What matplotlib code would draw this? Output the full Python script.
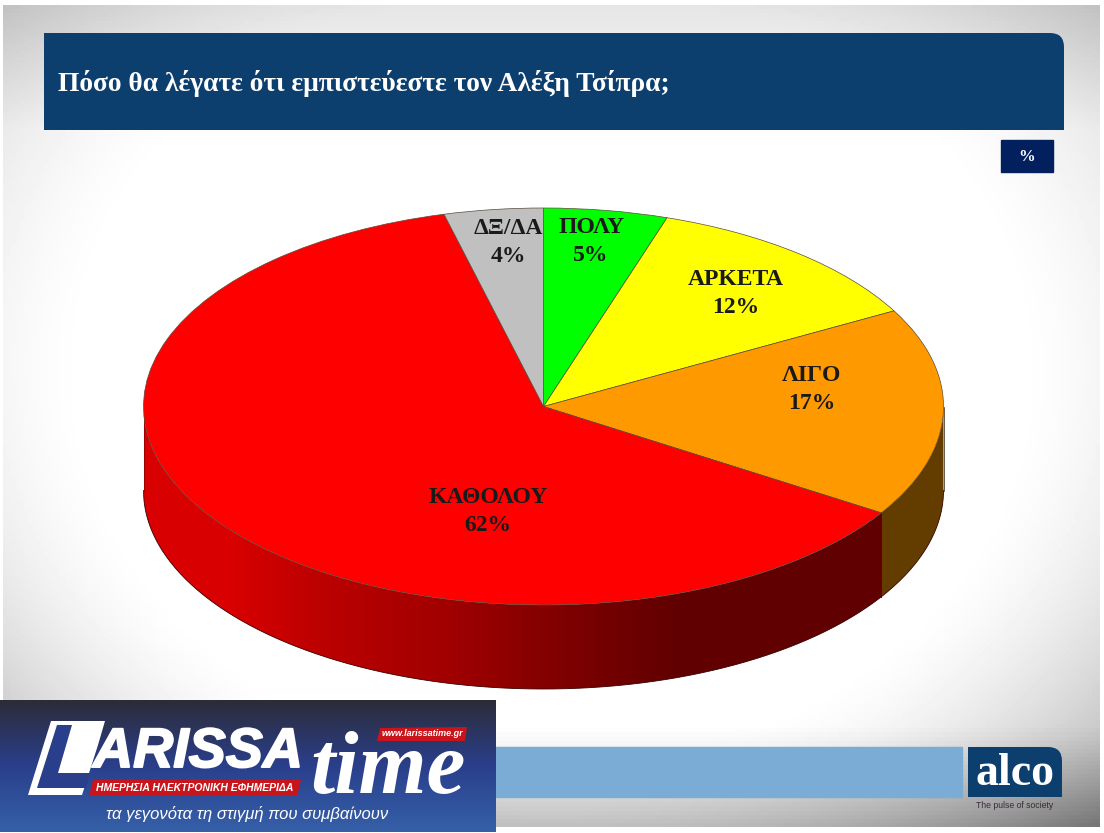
import numpy as np
import matplotlib
matplotlib.use("Agg")
import matplotlib.pyplot as plt
import matplotlib.patheffects as pe
from matplotlib.colors import LinearSegmentedColormap, to_rgb
from matplotlib.patches import Polygon, PathPatch
from matplotlib.path import Path

labels = ["ΠΟΛΥ", "ΑΡΚΕΤΑ", "ΛΙΓΟ", "ΚΑΘΟΛΟΥ", "ΔΞ/ΔΑ"]
values = [5, 12, 17, 62, 4]
colors = ["#00ff00", "#ffff00", "#ff9900", "#ff0000", "#c0c0c0"]
title = "Πόσο θα λέγατε ότι εμπιστεύεστε τον Αλέξη Τσίπρα;"

W, H = 1104, 833
NAVY = "#0c3f6e"
SERIF = "Liberation Serif"
SANS = "Liberation Sans"

fig = plt.figure(figsize=(W / 100, H / 100), dpi=100, facecolor="white")
ax = fig.add_axes([0, 0, 1, 1])
ax.axis("off")

# slide background, white in the middle and grey towards the corners
yy, xx = np.mgrid[0:1:200j, 0:1:260j]
d = np.sqrt(((xx - 0.5) / 0.5) ** 2 + ((yy - 0.45) / 0.55) ** 2) / np.sqrt(2)
shade = 1 - (0.2 + 0.14 * yy) * np.clip((d - 0.6) / 0.4, 0, 1) ** 1.5
shade -= 0.2 * np.clip((yy - 0.88) / 0.12, 0, 1)
shade -= 0.1 * np.clip((0.15 - yy) / 0.15, 0, 1)
ax.imshow(shade, cmap="gray", vmin=0, vmax=1, extent=[3, 1100, 827, 5], aspect="auto", zorder=0)
ax.set_xlim(0, W)
ax.set_ylim(H, 0)


def round_top_right(target, x0, y0, x1, y1, r, color, z=2):
    verts = [(x0, y1), (x0, y0), (x1 - r, y0), (x1, y0), (x1, y0 + r), (x1, y1), (x0, y1)]
    codes = [Path.MOVETO, Path.LINETO, Path.LINETO, Path.CURVE3, Path.CURVE3, Path.LINETO, Path.CLOSEPOLY]
    target.add_patch(PathPatch(Path(verts, codes), fc=color, ec="none", zorder=z))


# header
round_top_right(ax, 44, 33, 1064, 130, 14, NAVY)
ax.text(58, 83, title, family=SERIF, weight="bold", color="white", fontsize=19.8, va="center", zorder=3)
ax.fill([1001, 1053, 1053, 1001], [140, 140, 172, 172], color="#021f5e", zorder=2)
ax.text(1027, 157, "%", family=SERIF, weight="bold", color="white", fontsize=12, ha="center", va="center", zorder=3)

# pie geometry in pixels
cx, cy, rx, ry, depth = 543.5, 406.5, 400, 198.5, 84

# red side wall shading, left to right
wall_cmap = LinearSegmentedColormap.from_list(
    "wall", [(0, "#d80000"), (0.11, "#d80000"), (0.2, "#c00000"), (0.38, "#a00000"), (0.52, "#800000"),
             (0.67, "#600000"), (1, "#600000")])

# side wall, slices run clockwise from the top
edges = np.cumsum([0] + values) / sum(values) * 360
for i, col in enumerate(colors):
    a0, a1 = max(edges[i], 90), min(edges[i + 1], 270)
    if a0 >= a1:
        continue
    th = np.radians(np.linspace(a0, a1, 200))
    px = cx + rx * np.sin(th)
    py = cy - ry * np.cos(th)
    outline = np.column_stack([np.r_[px, px[::-1]], np.r_[py, py[::-1] + depth]])
    if col == "#ff0000":
        wall = ax.imshow(np.linspace(0, 1, 400).reshape(1, -1), cmap=wall_cmap, vmin=0, vmax=1,
                         extent=[cx - rx, cx + rx, cy + ry + depth + 2, cy - ry], aspect="auto", zorder=3)
        wall.set_clip_path(Polygon(outline, transform=ax.transData))
    else:
        ax.add_patch(Polygon(outline, fc=np.array(to_rgb(col)) * 0.39, ec="none", zorder=3))
    if a0 > 90:
        ax.plot([px[0], px[0]], [py[0], py[0] + depth], color="#301800", lw=0.7, zorder=4)
ax.set_xlim(0, W)
ax.set_ylim(H, 0)

th = np.radians(np.linspace(90, 270, 300))
ax.plot(cx + rx * np.sin(th), cy - ry * np.cos(th) + depth, color="#3a0000", lw=0.6, zorder=4)
ax.plot([cx - rx, cx - rx], [cy, cy + depth], color="#8a0000", lw=0.5, zorder=4)
ax.plot([cx + rx, cx + rx], [cy, cy + depth], color="#301800", lw=0.5, zorder=4)

# top face, squashed by letting the axes be wider than tall
pie_ax = fig.add_axes([(cx - rx) / W, 1 - (cy + ry) / H, 2 * rx / W, 2 * ry / H], zorder=5)
pie_ax.pie(values, colors=colors, startangle=90, counterclock=False, radius=1,
           wedgeprops={"edgecolor": "#5a4a3a", "linewidth": 0.5, "clip_on": False})
pie_ax.set_aspect("auto")
pie_ax.set_xlim(-1, 1)
pie_ax.set_ylim(-1, 1)
pie_ax.patch.set_alpha(0)

# slice labels, on a top axes in pixel coordinates
top = fig.add_axes([0, 0, 1, 1], zorder=6)
top.axis("off")
label_xy = [(591, 241.5), (736, 293.5), (812, 389.5), (488, 511.5), (508, 242.5)]
for name, val, (lx, ly) in zip(labels, values, label_xy):
    top.text(lx, ly, f"{name}\n{val}%", family=SERIF, weight="bold", color="#1a1a1a", fontsize=17,
             ha="center", va="center", linespacing=1.4)

# footer bar and alco logo
top.fill([480, 962, 962, 480], [747, 747, 797, 797], color="#7bacd6", zorder=1)
round_top_right(top, 968, 747, 1062, 797, 14, NAVY, z=1)
top.text(1015, 774, "alco", family=SERIF, weight="bold", color="white", fontsize=33, ha="center", va="center", zorder=2)
top.text(1015, 806, "The pulse of society", family=SANS, color="#3a2a3a", fontsize=6.2, ha="center", va="center")

# newspaper banner bottom left
grad = np.linspace(0, 1, 100).reshape(-1, 1)
banner = LinearSegmentedColormap.from_list("b", ["#2c2c38", "#2a3f8c", "#3560a8"])
top.imshow(grad, cmap=banner, extent=[0, 496, 832, 700], aspect="auto", zorder=3)
top.set_xlim(0, W)
top.set_ylim(H, 0)
top.add_patch(Polygon([(28, 795), (51, 721), (105, 721), (98, 745), (82, 795)], fc="white", ec="none", zorder=4))
top.add_patch(Polygon([(37, 788), (57, 725), (72, 725), (58, 773), (90, 773), (86, 788)], fc="#2a3f8c", ec="none", zorder=5))
heavy = [pe.withStroke(linewidth=1.4, foreground="white")]
top.text(93, 753, "ARISSA", family=SANS, weight="bold", style="italic", color="white", fontsize=40, va="center",
         zorder=6, path_effects=heavy)
top.text(310, 793, "time", family=SERIF, weight="bold", style="italic", color="white", fontsize=63, va="baseline", zorder=6)
top.add_patch(Polygon([(93, 780), (301, 780), (297, 796), (89, 796)], fc="#c8151b", ec="none", zorder=6))
top.text(195, 788, "ΗΜΕΡΗΣΙΑ ΗΛΕΚΤΡΟΝΙΚΗ ΕΦΗΜΕΡΙΔΑ", family=SANS, weight="bold", style="italic", color="white",
         fontsize=7.5, ha="center", va="center", zorder=7)
top.add_patch(Polygon([(380, 728), (467, 727), (465, 741), (377, 741)], fc="#c8151b", ec="none", zorder=6))
top.text(422, 734, "www.larissatime.gr", family=SANS, weight="bold", style="italic", color="white",
         fontsize=6.5, ha="center", va="center", zorder=7)
top.text(247, 814, "τα γεγονότα τη στιγμή που συμβαίνουν", family=SANS, style="italic", color="white",
         fontsize=12, ha="center", va="center", zorder=7)

fig.savefig("out.png", dpi=100)
